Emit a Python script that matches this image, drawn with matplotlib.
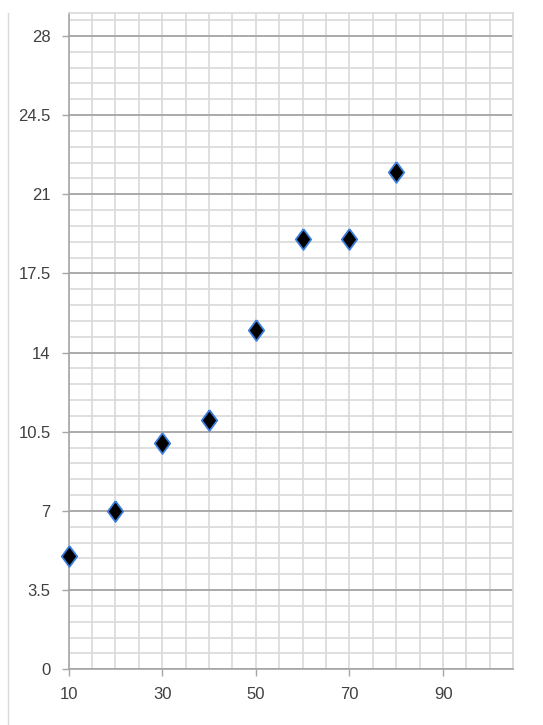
import matplotlib
matplotlib.use("Agg")
import matplotlib.pyplot as plt
from matplotlib.ticker import FixedLocator, MultipleLocator, FuncFormatter
from matplotlib.lines import Line2D

x_vals = [10, 20, 30, 40, 50, 60, 70, 80]
y_vals = [5, 7, 10, 11, 15, 19, 19, 22]
x_ticks = [10, 30, 50, 70, 90]
y_ticks = [0, 3.5, 7, 10.5, 14, 17.5, 21, 24.5, 28]

plt.rcParams['font.family'] = ['Liberation Sans Narrow', 'Liberation Sans', 'DejaVu Sans']

fig = plt.figure(figsize=(5.43, 7.25), dpi=100)
ax = fig.add_axes([0.1265, 0.0768, 0.9453 - 0.1265, 0.9817 - 0.0768])

ax.set_xlim(10, 105)
ax.set_ylim(0, 29)

ax.xaxis.set_major_locator(FixedLocator(x_ticks))
ax.xaxis.set_minor_locator(MultipleLocator(5))
ax.yaxis.set_major_locator(FixedLocator(y_ticks))
ax.yaxis.set_minor_locator(MultipleLocator(0.7))
ax.yaxis.set_major_formatter(FuncFormatter(lambda v, p: f"{v:g}"))

ax.grid(True, axis='x', which='both', color='#d9d9d9', linewidth=1.2)
ax.grid(True, axis='y', which='minor', color='#d9d9d9', linewidth=1.2)
ax.grid(True, axis='y', which='major', color='#aaaaaa', linewidth=1.4)
ax.set_axisbelow(True)

ax.tick_params(axis='both', which='minor', length=0)
ax.tick_params(axis='both', which='major', length=5, width=1, color='#a6a6a6',
               labelsize=12, labelcolor='#404040', pad=8)

for s in ['top', 'right']:
    ax.spines[s].set_color('#d9d9d9')
    ax.spines[s].set_linewidth(1.2)
for s in ['left', 'bottom']:
    ax.spines[s].set_color('#a6a6a6')
    ax.spines[s].set_linewidth(1.2)

diamond = [(0, 1), (0.74, 0), (0, -1), (-0.74, 0), (0, 1)]
ax.plot(x_vals, y_vals, linestyle='none', marker=diamond, markersize=15,
        markerfacecolor='black', markeredgecolor='#3b7ddd', markeredgewidth=1.3,
        zorder=5, clip_on=False)

fig.add_artist(Line2D([7.5 / 543, 7.5 / 543], [0, 1 - 13 / 725],
                      transform=fig.transFigure, color='#d9d9d9', linewidth=1))

fig.savefig("out.png", dpi=100)
